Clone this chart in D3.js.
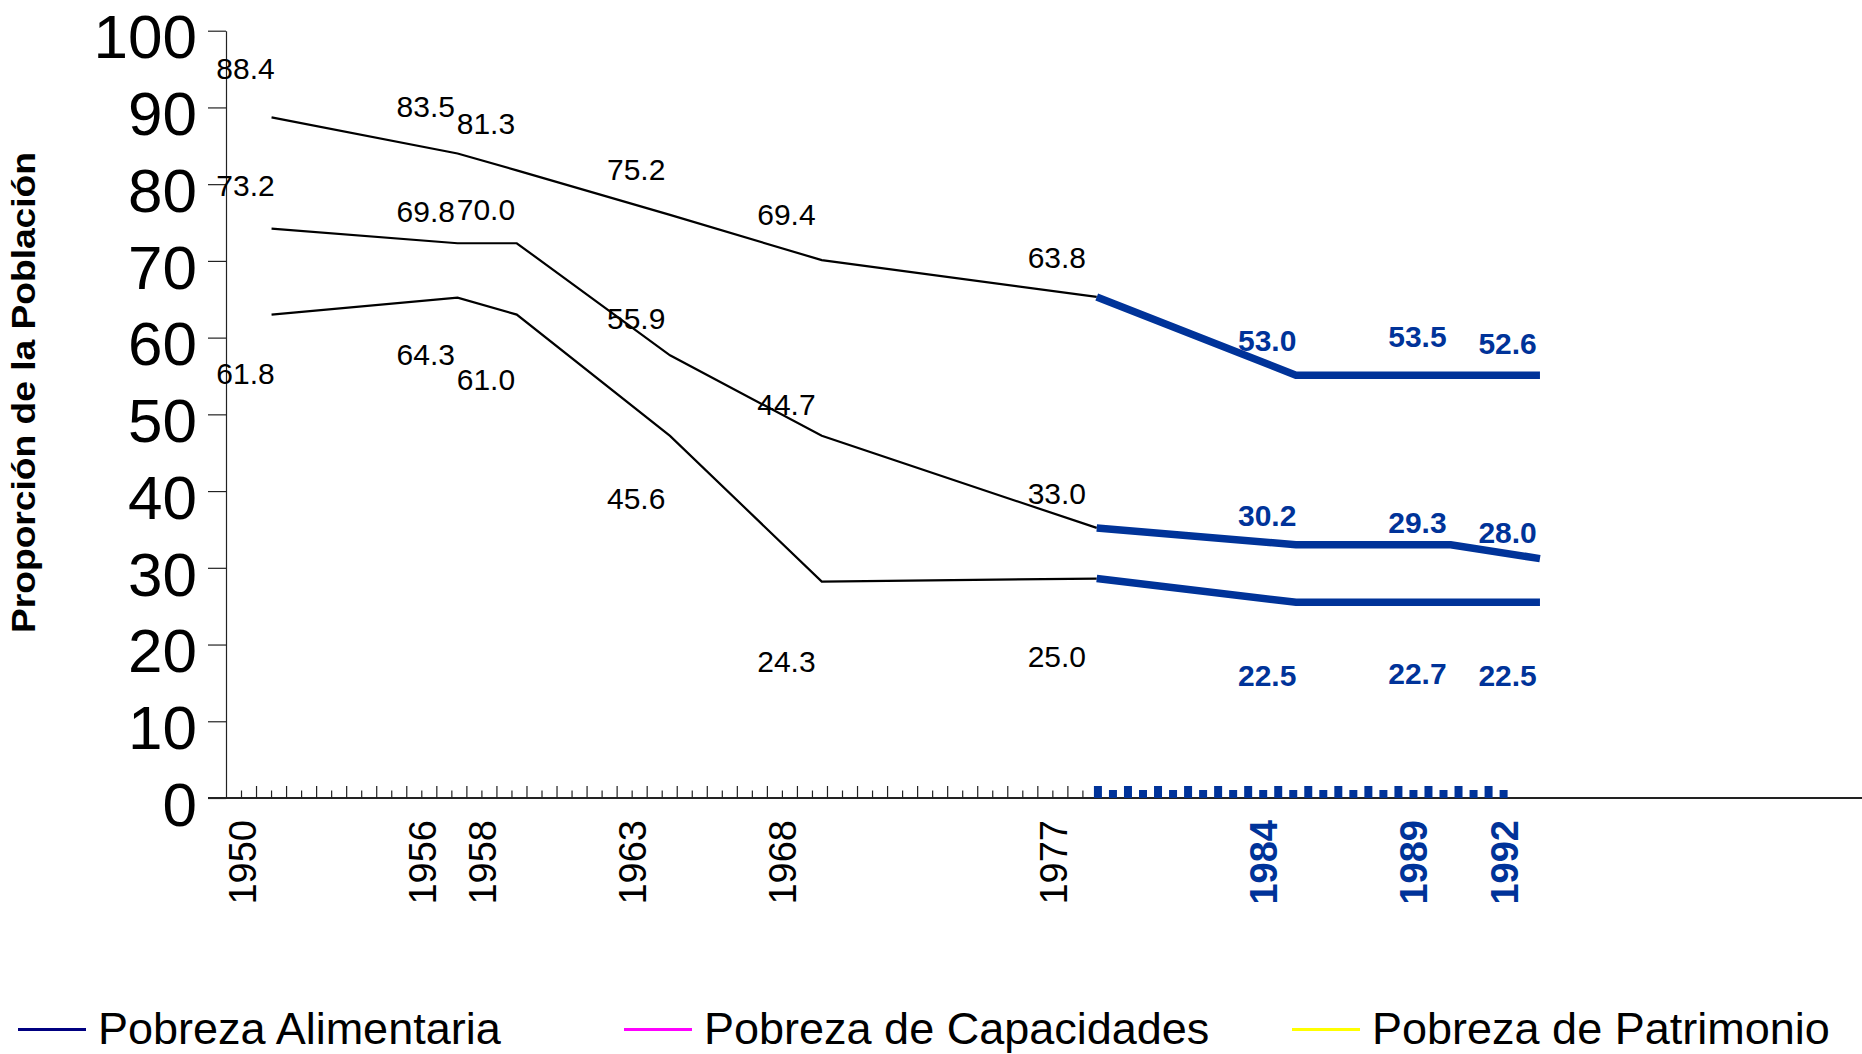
<!DOCTYPE html>
<html>
<meta charset="utf-8">
<style>
  body { margin: 0; background: #fff; }
  text { font-family: "Liberation Sans", Arial, sans-serif; }
  .yaxis path, .yaxis line { stroke: #222; stroke-width: 1.2; }
</style>
<body>
<script src="https://d3js.org/d3.v7.min.js"></script>
<script>
  let width = 1862, height = 1054;

  // years written under the axis
  let years = [1950, 1956, 1958, 1963, 1968, 1977, 1984, 1989, 1992];
  // where the drawn vertices actually sit along the year axis
  let lineYears = [1951.0, 1957.19, 1959.16, 1964.26, 1969.31, 1978.46, 1985.09, 1990.24, 1993.21];

  // values printed as labels
  let patrimonioLabels = [88.4, 83.5, 81.3, 75.2, 69.4, 63.8, 53.0, 53.5, 52.6];
  let capacidadesLabels = [73.2, 69.8, 70.0, 55.9, 44.7, 33.0, 30.2, 29.3, 28.0];
  let alimentariaLabels = [61.8, 64.3, 61.0, 45.6, 24.3, 25.0, 22.5, 22.7, 22.5];

  // values the lines are drawn at
  let patrimonioLine = [88.7, 84.0, 81.8, 76.0, 70.1, 65.3, 55.1, 55.1, 55.1];
  let capacidadesLine = [74.2, 72.3, 72.3, 57.7, 47.2, 35.2, 33.0, 33.0, 31.2];
  let alimentariaLine = [63.0, 65.2, 63.0, 47.2, 28.2, 28.6, 25.5, 25.5, 25.5];

  let yTicks = [0, 10, 20, 30, 40, 50, 60, 70, 80, 90, 100];

  let legendNames = ["Pobreza Alimentaria", "Pobreza de Capacidades", "Pobreza de Patrimonio"];
  let legendColors = ["#000080", "#ff00ff", "#ffff00"];

  let blue = "#003399";
  let firstBlue = 5; // 1977 onwards is drawn in blue

  let svg = d3.select("body").append("svg")
    .attr("width", width)
    .attr("height", height);

  svg.append("rect").attr("width", width).attr("height", height).attr("fill", "#fff");

  // year centres
  let x = d3.scaleLinear()
    .domain([1950, 1992])
    .range([241.5, 1503.6]);

  let y = d3.scaleLinear()
    .domain([0, 100])
    .range([798, 30.7]);

  // y axis
  let yAxis = svg.append("g")
    .attr("class", "yaxis")
    .attr("transform", "translate(226,0)")
    .call(d3.axisLeft(y).tickValues(yTicks).tickSize(18).tickSizeOuter(0).tickPadding(11));

  yAxis.selectAll("text")
    .attr("font-size", 62)
    .attr("font-family", "Liberation Sans, Arial, sans-serif")
    .attr("fill", "#000")
    .attr("dy", "0.44em");

  // x axis baseline
  svg.append("line")
    .attr("x1", 208).attr("x2", width)
    .attr("y1", y(0)).attr("y2", y(0))
    .attr("stroke", "#222").attr("stroke-width", 2);

  // half-year ticks, tall ones on the year boundaries
  let halfSteps = d3.range(1, 86);
  svg.append("g").selectAll("rect")
    .data(halfSteps)
    .join("rect")
    .attr("x", k => x(1949.5 + k / 2) - (k >= 58 ? 4 : 0.6))
    .attr("width", k => k >= 58 ? 8 : 1.2)
    .attr("y", k => y(0) - (k % 2 === 0 ? 12 : (k >= 58 ? 8 : 7.5)))
    .attr("height", k => k % 2 === 0 ? 12 : (k >= 58 ? 8 : 7.5))
    .attr("fill", k => k >= 58 ? blue : "#222");

  // year labels
  svg.append("g").selectAll("text")
    .data(years)
    .join("text")
    .attr("transform", d => `translate(${x(d) + 14},820) rotate(-90)`)
    .attr("text-anchor", "end")
    .attr("font-size", 38)
    .attr("font-weight", (d, i) => i > firstBlue ? "bold" : "normal")
    .attr("fill", (d, i) => i > firstBlue ? blue : "#000")
    .text(d => d);

  // y title
  svg.append("text")
    .attr("transform", "translate(34.5,392.5) rotate(-90)")
    .attr("text-anchor", "middle")
    .attr("font-size", 33)
    .attr("font-weight", "bold")
    .attr("textLength", 481)
    .attr("lengthAdjust", "spacingAndGlyphs")
    .text("Proporción de la Población");

  let series = [
    { line: patrimonioLine, labels: patrimonioLabels, above: true },
    { line: capacidadesLine, labels: capacidadesLabels, above: true },
    { line: alimentariaLine, labels: alimentariaLabels, above: false }
  ];

  let line = d3.line()
    .x(d => x(d.t))
    .y(d => y(d.v));

  series.forEach(s => {
    let pts = s.line.map((v, i) => ({ t: lineYears[i], v: v }));

    svg.append("path")
      .datum(pts.slice(0, firstBlue + 1))
      .attr("d", line)
      .attr("fill", "none")
      .attr("stroke", "#000")
      .attr("stroke-width", 2.2);

    svg.append("path")
      .datum(pts.slice(firstBlue))
      .attr("d", line)
      .attr("fill", "none")
      .attr("stroke", blue)
      .attr("stroke-width", 7.5);

    svg.append("g").selectAll("text")
      .data(s.labels)
      .join("text")
      .attr("x", (d, i) => x(years[i]) + 4)
      .attr("y", d => s.above ? y(d) - 40.5 : y(d) + 60.5)
      .attr("text-anchor", "middle")
      .attr("font-size", 30)
      .attr("font-weight", (d, i) => i > firstBlue ? "bold" : "normal")
      .attr("fill", (d, i) => i > firstBlue ? blue : "#000")
      .text(d => d.toFixed(1));
  });

  // legend
  let legendX = [18, 624, 1292];
  let legend = svg.append("g").selectAll("g")
    .data(legendNames)
    .join("g")
    .attr("transform", (d, i) => `translate(${legendX[i]},0)`);

  legend.append("line")
    .attr("x1", 0).attr("x2", 68)
    .attr("y1", 1029.5).attr("y2", 1029.5)
    .attr("stroke", (d, i) => legendColors[i])
    .attr("stroke-width", 3);

  legend.append("text")
    .attr("x", 80)
    .attr("y", 1044)
    .attr("font-size", 45)
    .text(d => d);
</script>
</body>
</html>
